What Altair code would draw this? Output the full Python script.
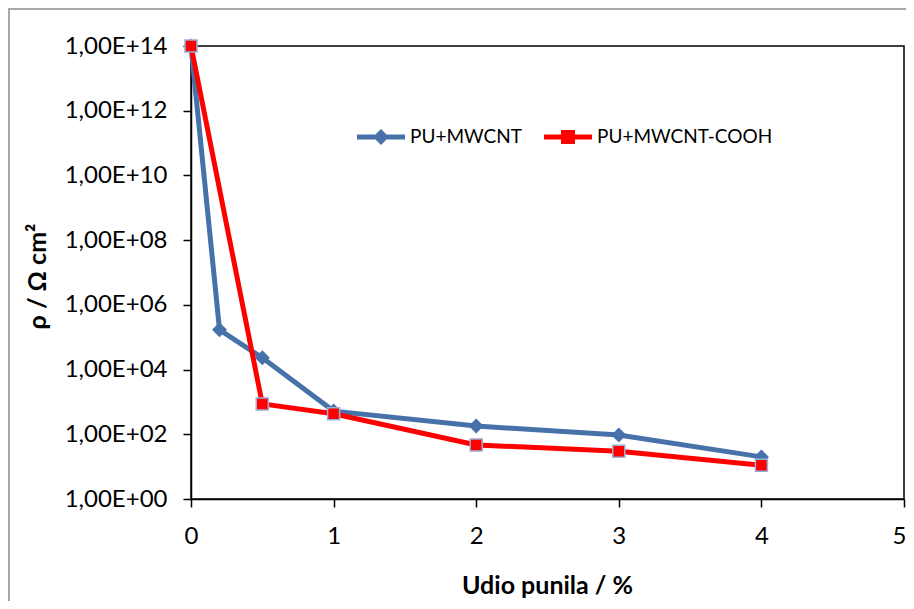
import altair as alt
import pandas as pd

# ---- data ----
series_names = ["PU+MWCNT", "PU+MWCNT-COOH"]
x_blue = [0, 0.2, 0.5, 1, 2, 3, 4]
y_blue = [1e14, 1.7e5, 2.3e4, 5.2e2, 1.8e2, 9.5e1, 2.0e1]
x_red = [0, 0.5, 1, 2, 3, 4]
y_red = [1e14, 8.7e2, 4.3e2, 4.7e1, 3.0e1, 1.1e1]
y_ticks = [1e0, 1e2, 1e4, 1e6, 1e8, 1e10, 1e12, 1e14]
x_ticks = [0, 1, 2, 3, 4, 5]

BLUE = "#4672a9"
RED = "#ff0000"
FONT = "Lato"

df_blue = pd.DataFrame({"x": x_blue, "y": y_blue, "series": series_names[0]})
df_red = pd.DataFrame({"x": x_red, "y": y_red, "series": series_names[1]})
df_all = pd.concat([df_blue, df_red], ignore_index=True)

x_enc = alt.X(
    "x:Q",
    scale=alt.Scale(domain=[0, 5], nice=False),
    axis=alt.Axis(
        values=x_ticks, format="d", title="Udio punila / %", labelFlush=False,
        labelAlign=alt.condition("datum.value == 5", alt.value("right"), alt.value("center")),
        labelOffset=alt.condition("datum.value == 5", alt.value(2), alt.value(0)),
        labelPadding=17, titleX=356, titleY=94, titleBaseline="alphabetic",
    ),
)
y_enc = alt.Y(
    "y:Q",
    scale=alt.Scale(type="log", domain=[1, 1e14], nice=False),
    axis=alt.Axis(
        values=y_ticks, labelFlush=False,
        labelExpr="'1,00E+' + format(round(log(datum.value) / LN10), '02d')",
        title="ρ / Ω cm²", labelPadding=16,
        titleX=-154, titleY=230, titleAngle=-90, titleAlign="center",
        titleBaseline="middle",
    ),
)

# legend symbols: a line with the series marker on it (unit path coordinates)
diamond_path = ("M-1,-0.1L-0.23,-0.1L0,-0.33L0.23,-0.1L1,-0.1L1,0.1"
                "L0.23,0.1L0,0.33L-0.23,0.1L-1,0.1Z")
square_path = ("M-1,-0.1L-0.29,-0.1L-0.29,-0.29L0.29,-0.29L0.29,-0.1L1,-0.1"
               "L1,0.1L0.29,0.1L0.29,0.29L-0.29,0.29L-0.29,0.1L-1,0.1Z")

legend = alt.Legend(
    title=None, orient="none", legendX=166, legendY=67, direction="horizontal",
    padding=0, symbolSize=2304, symbolOpacity=1, symbolStrokeWidth=0,
    labelFont=FONT, labelFontSize=19, labelColor="black", labelOffset=5,
    labelLimit=400, columnPadding=22,
)
color_enc = alt.Color(
    "series:N",
    scale=alt.Scale(domain=series_names, range=[BLUE, RED]),
    legend=legend,
)
shape_enc = alt.Shape(
    "series:N",
    scale=alt.Scale(domain=series_names, range=[diamond_path, square_path]),
    legend=legend,
)

frame = alt.Chart(pd.DataFrame({"k": [0]})).mark_rect(
    fill="transparent", stroke="#a8a8a8", strokeWidth=2
).encode(
    x=alt.value(-182), x2=alt.value(800), y=alt.value(-37), y2=alt.value(700)
)

legend_layer = alt.Chart(df_all).mark_point(filled=True, opacity=0).encode(
    x=x_enc, y=y_enc, color=color_enc, shape=shape_enc
)

line_blue = alt.Chart(df_blue).mark_line(color=BLUE, strokeWidth=5).encode(x=x_enc, y=y_enc)
pts_blue = alt.Chart(df_blue).mark_point(
    filled=True, shape="diamond", size=225, opacity=1, color=BLUE
).encode(x=x_enc, y=y_enc)
line_red = alt.Chart(df_red).mark_line(color=RED, strokeWidth=5).encode(x=x_enc, y=y_enc)
pts_red = alt.Chart(df_red).mark_point(
    filled=True, shape="square", size=144, opacity=1, fill=RED,
    stroke="#9aaed6", strokeWidth=1.5,
).encode(x=x_enc, y=y_enc)

chart = alt.layer(frame, legend_layer, line_blue, pts_blue, line_red, pts_red).properties(
    width=713, height=453,
    autosize=alt.AutoSizeParams(type="none"),
    padding={"left": 183, "top": 38, "right": 2, "bottom": 102},
).configure(
    font=FONT,
).configure_view(
    stroke="black", strokeWidth=1.5,
).configure_axis(
    grid=False, domainColor="black", domainWidth=1.5, tickColor="black",
    tickWidth=1.5, tickSize=8, labelColor="black", labelFont=FONT,
    labelFontSize=24, labelFontWeight="normal", titleColor="black",
    titleFont=FONT, titleFontSize=25, titleFontWeight="bold",
)

chart.save("out.html", embed_options={"renderer": "svg", "actions": False})
